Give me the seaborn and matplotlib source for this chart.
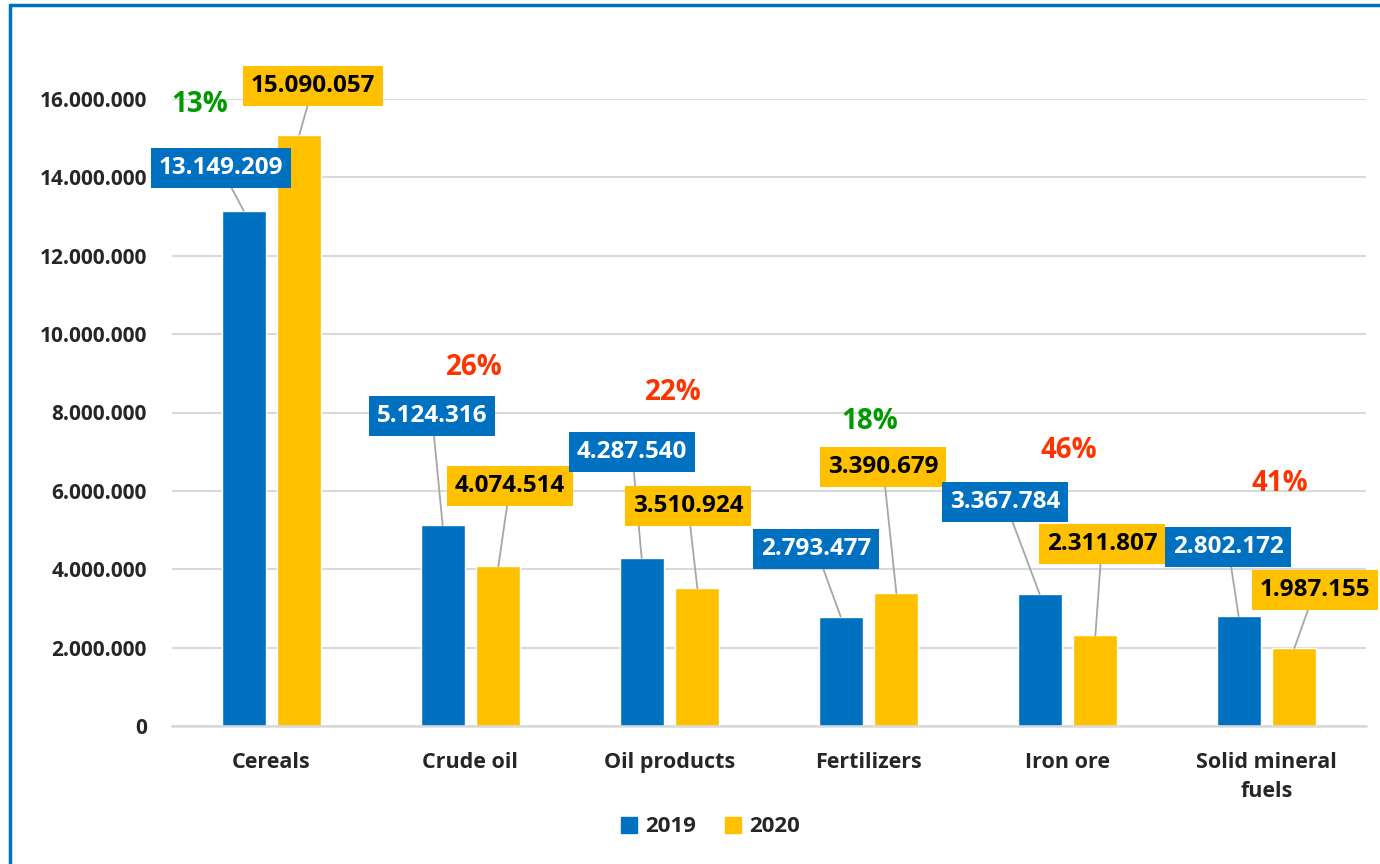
import pandas as pd
import matplotlib
matplotlib.use('Agg')
import matplotlib.pyplot as plt
import seaborn as sns
from matplotlib.lines import Line2D
from matplotlib.ticker import FuncFormatter

# данные
categories = ['Cereals', 'Crude oil', 'Oil products', 'Fertilizers', 'Iron ore', 'Solid mineral\nfuels']
years = ['2019', '2020']
values_2019 = [13149209, 5124316, 4287540, 2793477, 3367784, 2802172]
values_2020 = [15090057, 4074514, 3510924, 3390679, 2311807, 1987155]
pct_labels = ['13%', '26%', '22%', '18%', '46%', '41%']
pct_up = [True, False, False, True, False, False]

# позиции подписей (в координатах данных)
lab19_pos = [(-0.254, 14.24e6), (0.807, 7.91e6), (1.812, 6.99e6), (2.736, 4.52e6), (3.686, 5.72e6), (4.807, 4.57e6)]
lab20_pos = [(0.209, 16.33e6), (1.198, 6.12e6), (2.093, 5.61e6), (3.073, 6.61e6), (4.173, 4.64e6), (5.244, 3.47e6)]
pct_pos = [(-0.359, 15.87e6), (1.018, 9.16e6), (2.018, 8.50e6), (3.008, 7.78e6), (4.008, 7.02e6), (5.068, 6.18e6)]

BLUE = '#0070C0'
GOLD = '#FFC000'
FONT = 'Open Sans'

df = pd.DataFrame({
    'category': categories * 2,
    'year': [years[0]] * len(categories) + [years[1]] * len(categories),
    'value': values_2019 + values_2020,
})

sns.set_style('white')
plt.rcParams['font.family'] = [FONT, 'DejaVu Sans']
plt.rcParams['font.weight'] = 'bold'

fig = plt.figure(figsize=(13.8, 8.64), dpi=100)
ax = fig.add_axes([172 / 1380, 138 / 864, 1194 / 1380, 627 / 864])

sns.barplot(data=df, x='category', y='value', hue='year', palette=[BLUE, GOLD],
            width=0.56, gap=0.21, ax=ax, legend=False, saturation=1)

ax.set_xlim(-0.5, 5.5)
ax.set_ylim(0, 16e6)
ax.set_yticks(range(0, 16000001, 2000000))
ax.yaxis.set_major_formatter(FuncFormatter(lambda v, p: f'{int(v):,}'.replace(',', '.')))
ax.grid(axis='y', color='#D9D9D9', lw=1.5)
ax.set_axisbelow(True)
for s in ['top', 'right', 'left']:
    ax.spines[s].set_visible(False)
ax.spines['bottom'].set_color('#D9D9D9')
ax.spines['bottom'].set_linewidth(1.8)
ax.tick_params(axis='y', length=0, pad=18, labelsize=15)
ax.tick_params(axis='x', length=0, pad=19, labelsize=15.5)
for t in ax.get_xticklabels() + ax.get_yticklabels():
    t.set_fontweight('bold')
    t.set_linespacing(1.5)
ax.set_xlabel('')
ax.set_ylabel('')

off = 0.14
for i in range(len(categories)):
    for val, pos, fc, tc, dx in [(values_2019[i], lab19_pos[i], BLUE, 'white', -off),
                                  (values_2020[i], lab20_pos[i], GOLD, 'black', off)]:
        ax.annotate(f'{val:,}'.replace(',', '.'), xy=(i + dx, val), xytext=pos,
                    ha='center', va='center', fontsize=17.5, fontweight='bold', color=tc,
                    bbox=dict(boxstyle='square,pad=0.32', fc=fc, ec='none'),
                    arrowprops=dict(arrowstyle='-', color='#A6A6A6', lw=1.3, shrinkA=0, shrinkB=0),
                    annotation_clip=False, zorder=5)
    ax.text(pct_pos[i][0], pct_pos[i][1], pct_labels[i], ha='center', va='center',
            fontsize=20, fontweight='bold', color='#009900' if pct_up[i] else '#FF3300',
            clip_on=False, zorder=5)

handles = [Line2D([], [], marker='s', ls='', color=c, markersize=11) for c in [BLUE, GOLD]]
fig.legend(handles, years, loc='center', bbox_to_anchor=(710 / 1380, 1 - 827 / 864),
           ncol=2, frameon=False, handlelength=0.8, handletextpad=0.3, columnspacing=1.3,
           prop={'weight': 'bold', 'size': 16})

# рамка
fig.add_artist(Line2D([9.5 / 1380, 9.5 / 1380], [0, 1 - 5 / 864], color=BLUE, lw=2.5,
                      transform=fig.transFigure))
fig.add_artist(Line2D([9.5 / 1380, 1], [1 - 5 / 864, 1 - 5 / 864], color=BLUE, lw=2.5,
                      transform=fig.transFigure))

fig.savefig('out.png', dpi=100)
